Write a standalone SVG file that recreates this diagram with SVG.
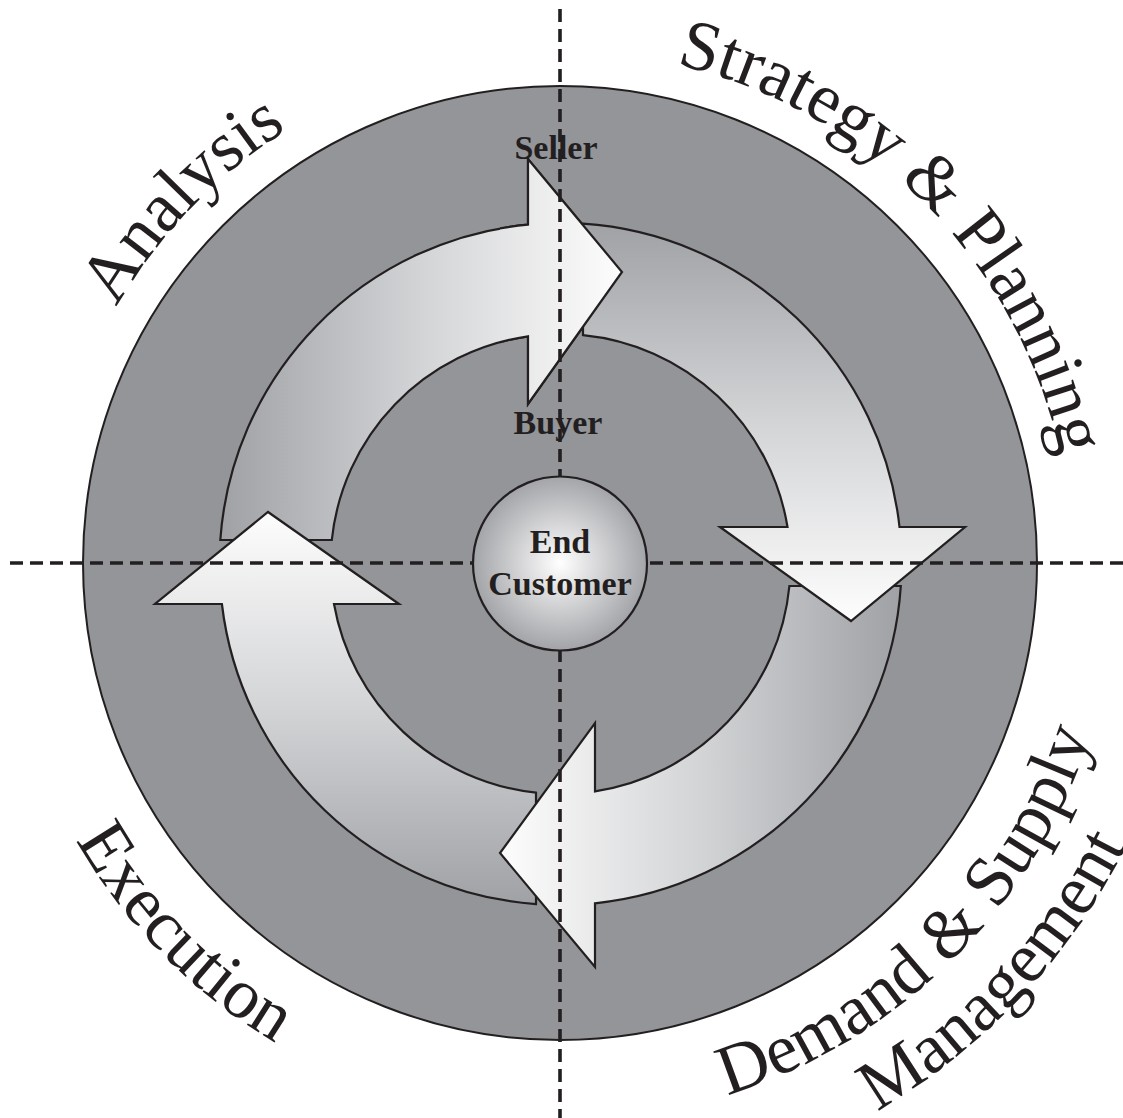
<svg xmlns="http://www.w3.org/2000/svg" xmlns:xlink="http://www.w3.org/1999/xlink" width="1123" height="1118" viewBox="0 0 1123 1118">
<style>
.arrow{stroke:#231f20;stroke-width:2.2;stroke-linejoin:miter}
.dash{stroke:#231f20;stroke-width:3.6;stroke-dasharray:13 7;fill:none}
.lbl{font-family:"Liberation Serif","Times New Roman",serif;font-size:71px;fill:#231f20}
.in{font-family:"Liberation Serif","Times New Roman",serif;font-size:34px;font-weight:bold;fill:#231f20;text-anchor:middle}
</style>
<defs>
<linearGradient id="g1" gradientUnits="userSpaceOnUse" x1="220" y1="0" x2="622" y2="0"><stop offset="0" stop-color="#a0a1a5"/><stop offset="0.5" stop-color="#d3d4d6"/><stop offset="1" stop-color="#fdfdfd"/></linearGradient>
<linearGradient id="g2" gradientUnits="userSpaceOnUse" x1="0" y1="222" x2="0" y2="621"><stop offset="0" stop-color="#a0a1a5"/><stop offset="0.5" stop-color="#d3d4d6"/><stop offset="1" stop-color="#fdfdfd"/></linearGradient>
<linearGradient id="g3" gradientUnits="userSpaceOnUse" x1="901" y1="0" x2="500" y2="0"><stop offset="0" stop-color="#a0a1a5"/><stop offset="0.5" stop-color="#d3d4d6"/><stop offset="1" stop-color="#fdfdfd"/></linearGradient>
<linearGradient id="g4" gradientUnits="userSpaceOnUse" x1="0" y1="905" x2="0" y2="512"><stop offset="0" stop-color="#a0a1a5"/><stop offset="0.5" stop-color="#d3d4d6"/><stop offset="1" stop-color="#fdfdfd"/></linearGradient>
<radialGradient id="gc" cx="560" cy="563" r="87" gradientUnits="userSpaceOnUse"><stop offset="0" stop-color="#ffffff"/><stop offset="1" stop-color="#a3a4a8"/></radialGradient>
<path id="arcOut" d="M 48,563 A 512 512 0 0 1 1072,563"/>
<path id="arcIn1" d="M 2,563 A 558 558 0 0 0 1118,563"/>
<path id="arcIn2" d="M -73,563 A 633 633 0 0 0 1193,563"/>
<path id="a1" d="M 220.3,540 A 341 341 0 0 1 528,224.6 L 528,159 L 622,272 L 528,404 L 528,336.3 A 230 230 0 0 0 331.8,540 Z"/>
<clipPath id="head1"><rect x="500" y="140" width="140" height="280"/></clipPath>
</defs>
<g id="outer-circle"><circle cx="560" cy="563" r="477" fill="#939598" stroke="#231f20" stroke-width="2"/></g>
<g id="arrows">
<use id="arrow-analysis" xlink:href="#a1" href="#a1" class="arrow" fill="url(#g1)"/>
<path id="arrow-execution" class="arrow" fill="url(#g4)" d="M 536,904.1 A 341 341 0 0 1 221.9,604 L 155,604 L 268,512 L 399,604 L 334,604 A 230 230 0 0 0 536,792.7 Z"/>
<path id="arrow-demand" class="arrow" fill="url(#g3)" d="M 900.8,586 A 341 341 0 0 1 595,903.3 L 595,967 L 500,853 L 595,723 L 595,791.4 A 230 230 0 0 0 789.4,586 Z"/>
<path id="arrow-strategy" class="arrow" fill="url(#g2)" d="M 583,223.7 A 341 341 0 0 1 899.5,527 L 965,527 L 851,621 L 720,527 L 787.5,527 A 230 230 0 0 0 583,335.1 Z"/>
<use xlink:href="#a1" href="#a1" class="arrow" fill="url(#g1)" clip-path="url(#head1)"/>
</g>
<g id="axes">
<line class="dash" x1="560" y1="9" x2="560" y2="1118"/>
<line class="dash" x1="10" y1="563" x2="1123" y2="563"/>
</g>
<g id="end-customer">
<circle cx="560" cy="563.5" r="87" fill="url(#gc)" stroke="#231f20" stroke-width="2.2"/>
<text class="in" x="560" y="553">End</text>
<text class="in" x="560" y="595">Customer</text>
</g>
<g id="seller"><text class="in" x="556" y="159">Seller</text></g>
<g id="buyer"><text class="in" x="558" y="434">Buyer</text></g>
<g id="labels">
<text class="lbl"><textPath xlink:href="#arcOut" href="#arcOut" startOffset="268">Analysis</textPath></text>
<text class="lbl"><textPath xlink:href="#arcOut" href="#arcOut" startOffset="921">Strategy &amp; Planning</textPath></text>
<text class="lbl"><textPath xlink:href="#arcIn1" href="#arcIn1" startOffset="290">Execution</textPath></text>
<text class="lbl"><textPath xlink:href="#arcIn1" href="#arcIn1" startOffset="1046">Demand &amp; Supply</textPath></text>
<text class="lbl"><textPath xlink:href="#arcIn2" href="#arcIn2" startOffset="1326">Management</textPath></text>
</g>
</svg>
